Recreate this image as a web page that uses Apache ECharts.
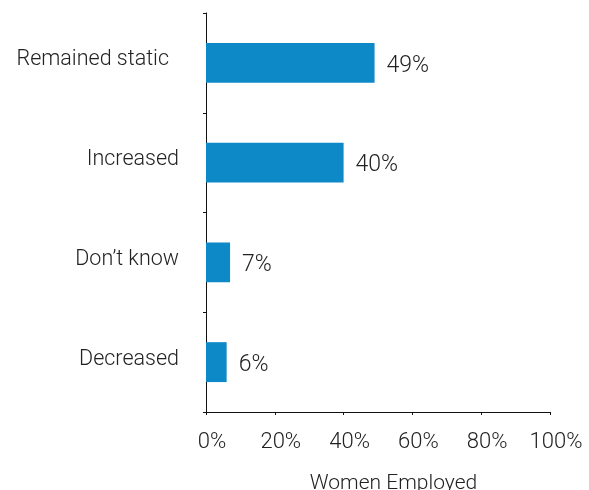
<!DOCTYPE html>
<html>
<head>
<meta charset="utf-8">
<script src="https://cdn.jsdelivr.net/npm/echarts@6/dist/echarts.min.js"></script>
<style>
  html, body { margin: 0; padding: 0; background: #fff; }
  #chart { width: 589px; height: 490px; }
</style>
</head>
<body>
<div id="chart"></div>
<script>
// Survey responses: change in number of women employed
var categories = ['Remained static', 'Increased', 'Don\u2019t know', 'Decreased'];
var shares = [49, 40, 7, 6];
var tickValues = [0, 20, 40, 60, 80, 100];

var FONT = 'Roboto, sans-serif';
var WEIGHT = 300;
var TEXT = '#222';

var chart = echarts.init(document.getElementById('chart'));
chart.setOption({
  animation: false,
  grid: { left: 206, right: 39, top: 13, bottom: 78, outerBoundsMode: 'none', containLabel: false },
  xAxis: {
    type: 'value',
    min: tickValues[0],
    max: tickValues[tickValues.length - 1],
    interval: 20,
    name: 'Women Employed',
    nameLocation: 'middle',
    nameGap: 61,
    nameTextStyle: { fontFamily: FONT, fontWeight: WEIGHT, fontSize: 21, color: TEXT, padding: [0, 0, 0, 31] },
    axisLine: { show: true, lineStyle: { color: '#111', width: 1 } },
    axisTick: { show: true, length: 3, lineStyle: { color: '#111' } },
    splitLine: { show: false },
    axisLabel: {
      fontFamily: FONT, fontWeight: WEIGHT, fontSize: 22, color: TEXT, margin: 19,
      padding: [0, 0, 0, 12],
      formatter: '{value}%'
    }
  },
  yAxis: {
    type: 'category',
    data: categories,
    inverse: true,
    axisLine: { show: true, lineStyle: { color: '#111', width: 1 } },
    axisTick: { show: true, length: 3, lineStyle: { color: '#111' } },
    axisLabel: {
      fontFamily: FONT, fontWeight: WEIGHT, fontSize: 21.5, color: TEXT, margin: 27,
      padding: [0, 0, 6, 0],
      formatter: function (v, i) { return i === 0 ? '{first|' + v + '}' : v; },
      rich: {
        first: { fontFamily: FONT, fontWeight: WEIGHT, fontSize: 21.5, color: TEXT, padding: [0, 10, 0, 0] }
      }
    }
  },
  series: [{
    type: 'bar',
    data: shares,
    barWidth: '40%',
    itemStyle: { color: '#0E89C8' },
    label: {
      show: true,
      position: 'right',
      distance: 12,
      offset: [0, 3],
      fontFamily: FONT,
      fontWeight: WEIGHT,
      fontSize: 23,
      color: TEXT,
      formatter: '{c}%'
    }
  }]
});
</script>
</body>
</html>
